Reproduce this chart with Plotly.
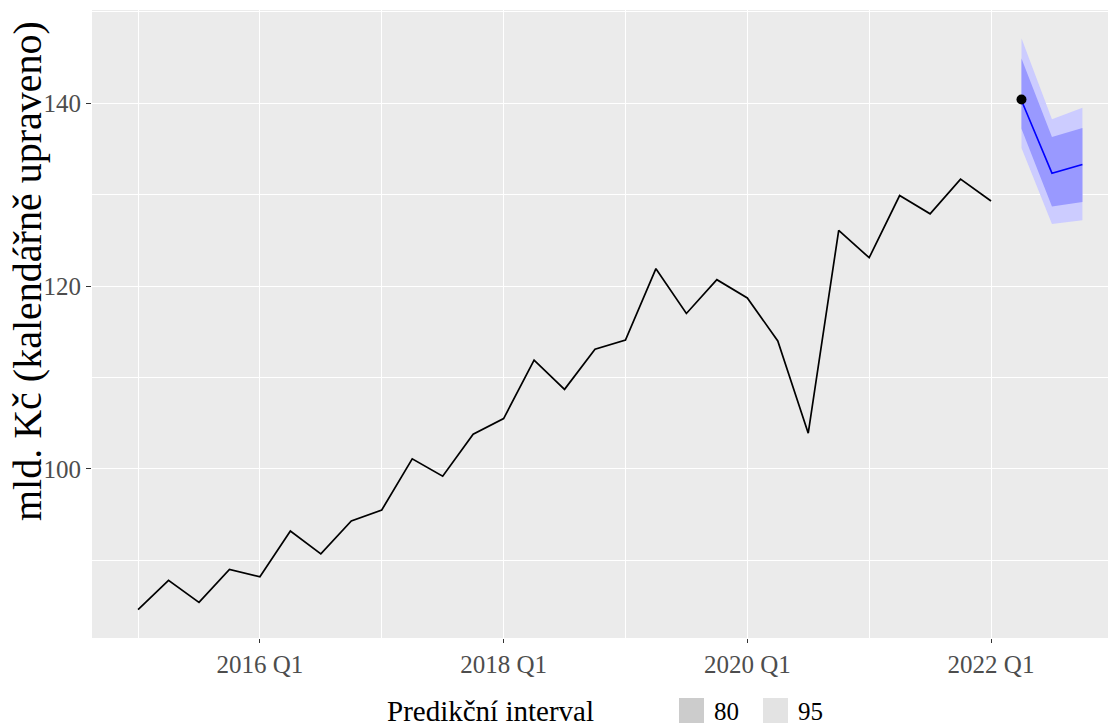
import plotly.graph_objects as go

# quarterly history, 2015 Q1 .. 2022 Q1
start_year = 2015
history = [84.6, 87.8, 85.4, 89.0, 88.2, 93.2, 90.7, 94.3,
           95.5, 101.1, 99.2, 103.8, 105.5, 111.9, 108.7, 113.1,
           114.1, 121.9, 117.0, 120.7, 118.7, 114.0, 103.9, 126.1,
           123.1, 129.9, 127.9, 131.7, 129.3]

# forecast 2022 Q2 .. 2022 Q4
fc_quarters = ["2022 Q2", "2022 Q3", "2022 Q4"]
fc_mean = [140.3, 132.35, 133.3]
fc_lo80 = [137.2, 128.7, 129.2]
fc_hi80 = [144.9, 136.3, 137.3]
fc_lo95 = [135.1, 126.8, 127.2]
fc_hi95 = [147.1, 138.25, 139.5]

# observed value in 2022 Q2
actual_q = ["2022 Q2"]
actual_val = [140.4]

x_ticks = ["2016 Q1", "2018 Q1", "2020 Q1", "2022 Q1"]
x_minor = ["2015 Q1", "2017 Q1", "2019 Q1", "2021 Q1"]
y_ticks = [100, 120, 140]
y_minor = [90, 110, 130, 150]

y_title = "mld. Kč (kalendářně upraveno)"
legend_title = "Predikční interval"
legend_levels = ["80", "95"]
legend_colors = ["#CCCCCC", "#E3E3E3"]


def qnum(label):
    y, q = label.split(" Q")
    return int(y) + (int(q) - 1) / 4


hist_x = [start_year + i / 4 for i in range(len(history))]
fc_x = [qnum(q) for q in fc_quarters]

FONT = "Liberation Serif, Times New Roman, serif"

fig = go.Figure()

# 95 % band
fig.add_trace(go.Scatter(x=fc_x, y=fc_hi95, mode="lines", line=dict(width=0),
                         showlegend=False, hoverinfo="skip"))
fig.add_trace(go.Scatter(x=fc_x, y=fc_lo95, mode="lines", line=dict(width=0),
                         fill="tonexty", fillcolor="#CCCCFF", showlegend=False))
# 80 % band
fig.add_trace(go.Scatter(x=fc_x, y=fc_hi80, mode="lines", line=dict(width=0),
                         showlegend=False, hoverinfo="skip"))
fig.add_trace(go.Scatter(x=fc_x, y=fc_lo80, mode="lines", line=dict(width=0),
                         fill="tonexty", fillcolor="#9999FF", showlegend=False))

fig.add_trace(go.Scatter(x=fc_x, y=fc_mean, mode="lines",
                         line=dict(color="#0000FF", width=1.6), showlegend=False))
fig.add_trace(go.Scatter(x=hist_x, y=history, mode="lines",
                         line=dict(color="black", width=1.7), showlegend=False))
fig.add_trace(go.Scatter(x=[qnum(q) for q in actual_q], y=actual_val, mode="markers",
                         marker=dict(color="black", size=10), showlegend=False))

fig.update_xaxes(
    range=[2014.622, 2022.96],
    tickvals=[qnum(t) for t in x_ticks], ticktext=x_ticks,
    showgrid=True, gridcolor="white", gridwidth=1.1,
    minor=dict(tickvals=[qnum(t) for t in x_minor], showgrid=True,
               gridcolor="white", gridwidth=0.55, ticks=""),
    ticks="outside", ticklen=4, tickcolor="#333333", tickwidth=1.1,
    tickfont=dict(family=FONT, size=25, color="#4D4D4D"),
    zeroline=False, showline=False,
)
fig.update_yaxes(
    range=[81.5, 150.2],
    tickvals=y_ticks,
    showgrid=True, gridcolor="white", gridwidth=1.1,
    minor=dict(tickvals=y_minor, showgrid=True, gridcolor="white",
               gridwidth=0.55, ticks=""),
    ticks="outside", ticklen=5, tickcolor="#333333", tickwidth=1.1,
    tickfont=dict(family=FONT, size=25, color="#4D4D4D"),
    zeroline=False, showline=False,
)

# page pixel -> paper helpers for the hand-placed texts
PL, PR, PT, PB = 92, 1108, 10, 638


def px(x):
    return (x - PL) / (PR - PL)


def py(y):
    return (PB - y) / (PB - PT)


# y axis title as a rotated annotation so it can sit where ggplot put it
fig.add_annotation(text=y_title, textangle=-90, x=px(27), y=py(271),
                   xref="paper", yref="paper", xanchor="center", yanchor="middle",
                   showarrow=False, font=dict(family=FONT, size=40, color="black"))

# legend drawn by hand at the bottom, ggplot style
fig.add_annotation(text=legend_title, x=px(385), y=py(711), xref="paper", yref="paper",
                   xanchor="left", yanchor="middle", showarrow=False,
                   font=dict(family=FONT, size=29, color="black"))
key_left = [679, 763]
for lev, col, kx in zip(legend_levels, legend_colors, key_left):
    fig.add_shape(type="rect", xref="paper", yref="paper",
                  x0=px(kx), x1=px(kx + 25), y0=py(723), y1=py(698),
                  fillcolor=col, line=dict(width=0))
    fig.add_annotation(text=lev, x=px(kx + 33), y=py(711), xref="paper", yref="paper",
                       xanchor="left", yanchor="middle", showarrow=False,
                       font=dict(family=FONT, size=25, color="black"))

fig.update_layout(
    width=1119, height=728,
    margin=dict(l=PL, r=1119 - PR, t=PT, b=728 - PB),
    plot_bgcolor="#EBEBEB", paper_bgcolor="white",
    font=dict(family=FONT),
    showlegend=False,
)

# drop the default page margin so the figure sits at the window corner
fig.write_html("out.html", config={"displayModeBar": False},
               post_script="document.body.style.margin='0';document.body.style.overflow='hidden';")
